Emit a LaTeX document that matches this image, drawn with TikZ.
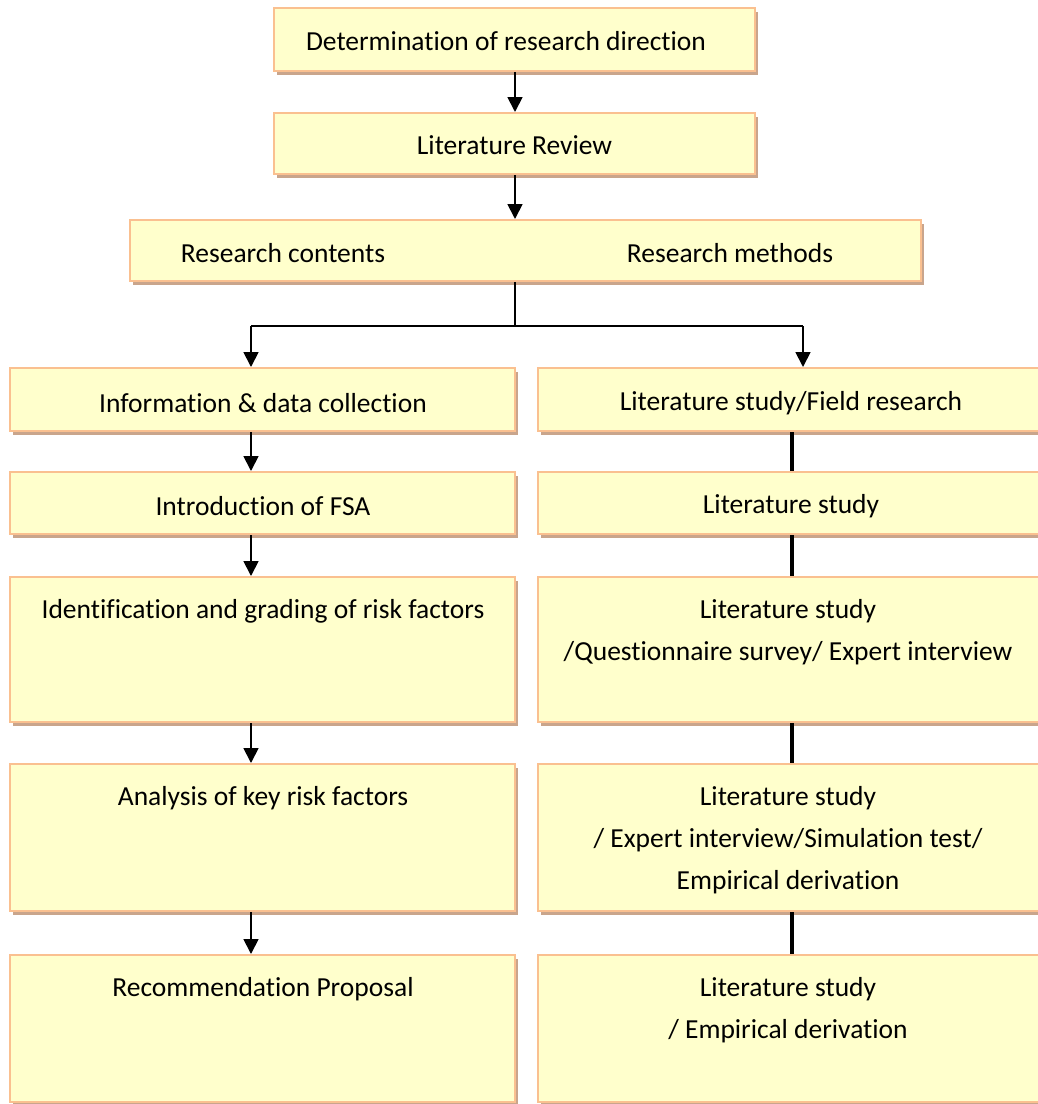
\documentclass[tikz,border=0pt]{standalone}
\usepackage{fontspec}
\setmainfont{Carlito}[Ligatures=NoCommon]
\usetikzlibrary{arrows.meta,shadows}
\definecolor{boxfill}{HTML}{FFFFCC}
\definecolor{boxline}{HTML}{FAC090}
\definecolor{boxshadow}{HTML}{C9A58C}
\begin{document}
\begin{tikzpicture}[x=1pt,y=-1pt,
  box/.style={draw=boxline, line width=2pt, fill=boxfill, rectangle, inner sep=0pt,
    drop shadow={shadow xshift=3pt, shadow yshift=-4pt, fill=boxshadow, opacity=1}},
  txt/.style={inner sep=0pt, align=center, font=\fontsize{27.5}{42}\selectfont},
  arr/.style={line width=1.8pt, -{Triangle[length=15pt,width=15pt]}},
  link/.style={line width=3.2pt}]
\useasboundingbox (0,0) rectangle (1038,1104);
\begin{scope}
\clip (0,0) rectangle (1038,1104);
% top boxes
\node[box, minimum width=481pt, minimum height=63pt] (b1) at (514.5,39.5) {};
\node[txt] (t1) at (506,41) {Determination of research direction};
\node[box, minimum width=481pt, minimum height=61pt] (b2) at (514.5,143.5) {};
\node[txt] (t2) at (514.5,145) {Literature Review};
\node[box, minimum width=791pt, minimum height=61pt] (b3) at (525.5,250.5) {};
\node[txt] (t3a) at (283,253) {Research contents};
\node[txt] (t3b) at (730,253) {Research methods};
% left column
\node[box, minimum width=505pt, minimum height=63pt] (l1) at (262.5,399.5) {};
\node[txt] (lt1) at (263,403) {Information \& data collection};
\node[box, minimum width=505pt, minimum height=62pt] (l2) at (262.5,503) {};
\node[txt] (lt2) at (263,506) {Introduction of FSA};
\node[box, minimum width=505pt, minimum height=145pt] (l3) at (262.5,649.5) {};
\node[txt, anchor=north] (lt3) at (263,599.5) {Identification and grading of risk factors};
\node[box, minimum width=505pt, minimum height=147pt] (l4) at (262.5,837.5) {};
\node[txt, anchor=north] (lt4) at (263,786.5) {Analysis of key risk factors};
\node[box, minimum width=505pt, minimum height=147pt] (l5) at (262.5,1028.5) {};
\node[txt, anchor=north] (lt5) at (263,977.5) {Recommendation Proposal};
% right column
\node[box, minimum width=512pt, minimum height=63pt] (r1) at (794,399.5) {};
\node[txt] (rt1) at (791,403) {Literature study/Field research};
\node[box, minimum width=512pt, minimum height=62pt] (r2) at (794,503) {};
\node[txt] (rt2) at (791,506) {Literature study};
\node[box, minimum width=512pt, minimum height=145pt] (r3) at (794,649.5) {};
\node[txt, anchor=north] (rt3) at (788,599.5) {Literature study\\/Questionnaire survey/ Expert interview};
\node[box, minimum width=512pt, minimum height=147pt] (r4) at (794,837.5) {};
\node[txt, anchor=north] (rt4) at (788,786.5) {Literature study\\/ Expert interview/Simulation test/\\Empirical derivation};
\node[box, minimum width=512pt, minimum height=147pt] (r5) at (794,1028.5) {};
\node[txt, anchor=north] (rt5) at (788,977.5) {Literature study\\/ Empirical derivation};
\end{scope}
% connectors
\coordinate (j) at (515,326);
\coordinate (jl) at (251,326);
\coordinate (jr) at (803,326);
\draw[arr] (b1.south -| 515,0) -- (b2.north -| 515,0);
\draw[arr] (b2.south -| 515,0) -- (b3.north -| 515,0);
\draw[line width=1.8pt] (b3.south -| j) -- (j);
\draw[line width=1.8pt] (jl) -- (jr);
\draw[arr] (jl) -- (l1.north -| jl);
\draw[arr] (jr) -- (r1.north -| jr);
\draw[arr] (l1.south -| jl) -- (l2.north -| jl);
\draw[arr] (l2.south -| jl) -- (l3.north -| jl);
\draw[arr] (l3.south -| jl) -- (l4.north -| jl);
\draw[arr] (l4.south -| jl) -- (l5.north -| jl);
\coordinate (rx) at (792,0);
\draw[link] (r1.south -| rx) -- (r2.north -| rx);
\draw[link] (r2.south -| rx) -- (r3.north -| rx);
\draw[link] (r3.south -| rx) -- (r4.north -| rx);
\draw[link] (r4.south -| rx) -- (r5.north -| rx);
\end{tikzpicture}
\end{document}
